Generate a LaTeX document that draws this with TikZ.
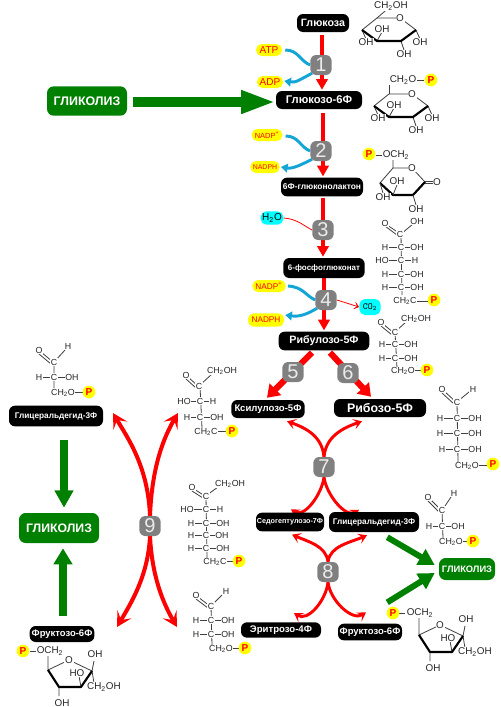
\documentclass[tikz,border=0pt]{standalone}
\usepackage{fontspec}
\setmainfont{Liberation Sans}
\usetikzlibrary{arrows.meta,calc,backgrounds}
\newcommand{\fsz}[1]{\fontsize{#1}{#1}\selectfont}
\newcommand{\two}{\textsubscript{2}}
\definecolor{gr}{HTML}{008000}
\definecolor{blu}{HTML}{12A5D6}
\definecolor{gry}{HTML}{808080}
\definecolor{cy}{HTML}{00FFFF}
\definecolor{yl}{HTML}{FFFF00}
\tikzset{
 blk/.style={fill=black,text=white,rounded corners=4.5pt,inner sep=0pt,font=\bfseries\fsz{#1}},
 blk/.default=7.2,
 glyc/.style={fill=gr,text=white,rounded corners=5pt,inner sep=0pt,font=\bfseries\fsz{#1}},
 num/.style={fill=gry,text=white!92!black,rounded corners=4.5pt,minimum width=16pt,minimum height=15pt,inner sep=0pt,font=\fsz{15}},
 yel/.style={fill=yl,text=red,rounded corners=4.2pt,inner sep=0pt,minimum height=9pt,font=\fsz{#1}},
 yel/.default=7.5,
 cya/.style={fill=cy,text=black,rounded corners=4.2pt,inner sep=0pt,minimum height=10pt,font=\fsz{7.5}},
 redup/.style={red,line width=2.7pt,-{Triangle[length=8pt,width=8.5pt]}},
 redfat/.style={red,line width=4.6pt,-{Triangle[length=9pt,width=12pt]}},
 redcurve/.style={red,line width=2.2pt,-{Stealth[length=6.5pt,width=8pt,inset=3pt]}},
 redbig/.style={red,line width=3pt,-{Stealth[length=11pt,width=12pt,inset=5pt]}},
 blue arc/.style={blu,line width=2.2pt},
 bluearr/.style={blu,line width=2.2pt,-{Triangle[length=5pt,width=6.5pt]}},
 thinred/.style={red,line width=.6pt},
 chem/.style={fill=white,inner sep=.4pt,text=black!85,font=\fsz{6.6}},
 ring/.style={text=black!85,inner sep=.5pt,fill=white,font=\fsz{7.4}},
 bond/.style={black!75,line width=.6pt},
 bbond/.style={black,line width=1.6pt},
 pc/.style={circle,fill=yl,text=red,inner sep=0pt,minimum size=9.5pt,font=\bfseries\fsz{7.5}},
}
% Fischer row: xL xC xR y textL textR
\newcommand{\frow}[6]{\draw[bond] (#1,#4)--(#3,#4);\node[chem] at (#1,#4){#5};\node[chem] at (#2,#4){C};\node[chem] at (#3,#4){#6};}
\newcommand{\psign}[2]{\node[pc] at (#1,#2){P};}
% ring: origin at C5
\newcommand{\pyrring}[2]{\begin{scope}[shift={(#1,#2)}]
 \draw[bond] (-15,12)--(0,0)--(23,0)--(39,12);
 \draw[bond] (-15,12)--(-11,21) (39,12)--(43,21) (24,23)--(27,32) (0,23)--(5,14);
 \draw[bbond,line join=round] (-15,12)--(0,23)--(24,23)--(39,12);
 \node[ring] at (23,0){O};
 \node[ring] at (5,11){OH};
 \node[ring] at (-11,24){OH};
 \node[ring] at (43,24){OH};
 \node[ring] at (27,36){OH};
\end{scope}}
% furanose: origin at left ring carbon
\newcommand{\furring}[2]{\begin{scope}[shift={(#1,#2)}]
 \draw[bond] (0,-19)--(0,0)--(21,-10)--(44,1);
 \draw[bond] (44,1)--(46,-9) (44,1)--(46,13) (11,17)--(11,26);
 \draw[bond] (33,17)--(31,6);
 \draw[bbond,line join=round] (0,0)--(11,17)--(33,17)--(44,1);
 \node[ring] at (21,-10){O};
 \node[ring] at (47,-16){OH};
 \node[ring] at (29,3){HO};
 \node[ring] at (56,17){CH\two OH};
 \node[ring] at (14,33){OH};
\end{scope}}
\begin{document}
\begin{tikzpicture}[x=.75pt,y=-.75pt]
\useasboundingbox (0,0) rectangle (500,707);
% ---- metabolites
\node[blk=8,minimum width=39pt,minimum height=13.5pt] (glc) at (323,23){Глюкоза};
\node[blk=8.4,minimum width=64.5pt,minimum height=13.5pt] (g6p) at (319,100){Глюкозо-6Ф};
\node[blk=6.3,minimum width=61.5pt,minimum height=14pt] (lac) at (322,187){6Ф-глюконолактон};
\node[blk=6,minimum width=61pt,minimum height=15pt] (pg) at (324,268){6-фосфоглюконат};
\node[blk=8,minimum width=68pt,minimum height=14pt] (rul) at (324,341){Рибулозо-5Ф};
\node[blk,minimum width=55pt,minimum height=13.5pt] (xyl) at (268,409){Ксилулозо-5Ф};
\node[blk=9.3,minimum width=69pt,minimum height=13.5pt] (rib) at (380,408){Рибозо-5Ф};
\node[blk=5.4,minimum width=51pt,minimum height=14pt] (sed) at (290,522){Седогептулозо-7Ф};
\node[blk=6.2,minimum width=67.5pt,minimum height=15pt] (gapr) at (374,522){Глицеральдегид-3Ф};
\node[blk=7.2,minimum width=60pt,minimum height=11.5pt] (ery) at (281,630){Эритрозо-4Ф};
\node[blk=7.1,minimum width=48pt,minimum height=12.5pt] (frr) at (370,632){Фруктозо-6Ф};
\node[blk=6.2,minimum width=70.5pt,minimum height=15.5pt] (gapl) at (56,416){Глицеральдегид-3Ф};
\node[blk=7.1,minimum width=48.5pt,minimum height=12pt] (frl) at (62,634){Фруктозо-6Ф};
% ---- glycolysis
\node[glyc=9.3,minimum width=60pt,minimum height=22pt] (g1) at (87,101){ГЛИКОЛИЗ};
\node[glyc=9.2,minimum width=60pt,minimum height=22.5pt] (g2) at (59,528){ГЛИКОЛИЗ};
\node[glyc=7,minimum width=42pt,minimum height=16.5pt] (g3) at (467,569){ГЛИКОЛИЗ};
% ---- step numbers
\node[num] (n1) at (321,65){1};
\node[num] (n2) at (321,151){2};
\node[num] (n3) at (323,230){3};
\node[num] (n4) at (326,300){4};
\node[num] (n5) at (293,372){5};
\node[num] (n6) at (348,373){6};
\node[num] (n7) at (324,467){7};
\node[num] (n8) at (328,572){8};
\node[num] (n9) at (150,526){9};
% ---- cofactors
\node[yel,minimum width=19.5pt] (atp) at (269,50){ATP};
\node[yel,minimum width=19.5pt] (adp) at (270,82){ADP};
\node[yel=5.6,minimum width=23pt] (nadp1) at (267,135){NADP\textsuperscript{+}};
\node[yel=5.2,minimum width=22pt] (nadph1) at (265,167){NADPH};
\node[cya,minimum width=17pt] (h2o) at (272,218){H\two O};
\node[yel=6.2,minimum width=25pt] (nadp2) at (269,286){NADP\textsuperscript{+}};
\node[yel=6.2,minimum width=27pt,minimum height=10pt] (nadph2) at (266,320){NADPH};
\node[cya,minimum width=16pt,minimum height=12pt,font=\ttfamily\fsz{7}] (co2) at (370,307){CO\two};
\begin{pgfonlayer}{background}
\fill[white] (0,0) rectangle (500,707);
% ---- main pathway
\draw[redup] ($(glc.south)+(-1,3)$) -- ($(g6p.north)+(3,-1)$);
\draw[redup] ($(g6p.south)+(4,4)$) -- ($(lac.north)+(1,-1)$);
\draw[redup] ($(lac.south)+(1,1)$) -- ($(pg.north)+(-1,-1)$);
\draw[redup] (pg.south) -- ($(rul.north)+(0,-1)$);
\draw[redfat] ($(rul.south)+(-12,2)$) -- ($(xyl.north)+(-1,-2)$);
\draw[redfat] ($(rul.south)+(6,2)$) -- ($(rib.north)+(-9,-2)$);
% ---- cofactor arcs
\draw[blue arc] ($(atp.east)+(3,0)$) .. controls +(13,0) and +(-10,-4) .. (n1.west);
\draw[bluearr] ($(n1.south west)+(2,-2)$) .. controls +(-10,5) and +(12,2) .. ($(adp.east)+(1,-1)$);
\draw[blue arc] ($(nadp1.east)+(3,1)$) .. controls +(13,0) and +(-10,-4) .. (n2.west);
\draw[bluearr] ($(n2.south west)+(2,-2)$) .. controls +(-10,5) and +(12,2) .. ($(nadph1.east)+(1,0)$);
\draw[thinred] (h2o.east) .. controls +(14,1) and +(-8,-4) .. (n3.west);
\draw[blue arc] ($(nadp2.east)+(2,0)$) .. controls +(15,1) and +(-10,-5) .. (n4.west);
\draw[bluearr] ($(n4.south west)+(2,-2)$) .. controls +(-10,6) and +(14,2) .. ($(nadph2.east)+(1,-5)$);
\draw[thinred,-{Stealth[length=5pt,width=8pt,inset=3.5pt]}] (n4.east) -- (co2.west);
% ---- step 7, 8
\draw[redcurve] (n7.north) .. controls +(-2,-20) and +(20,7) .. ($(xyl.south)+(19,3)$);
\draw[redcurve] (n7.north) .. controls +(2,-20) and +(-20,7) .. ($(rib.south)+(-18,4)$);
\draw[redcurve] (n7.south) .. controls +(-2,16) and +(14,9) .. ($(sed.north)+(1,-3)$);
\draw[redcurve] (n7.south) .. controls +(2,16) and +(-14,9) .. ($(gapr.north)+(-15,-2)$);
\draw[redcurve] (n8.north) .. controls +(-2,-16) and +(16,7) .. ($(sed.south)+(2,3)$);
\draw[redcurve] (n8.north) .. controls +(2,-16) and +(-16,7) .. ($(gapr.south)+(-7,3)$);
\draw[redcurve] (n8.south) .. controls +(-2,18) and +(14,9) .. ($(ery.north)+(13,-9)$);
\draw[redcurve] (n8.south) .. controls +(2,18) and +(-14,9) .. ($(frr.north)+(-4,-11)$);
% ---- step 9
\coordinate (e9a) at (113,413); \coordinate (e9b) at (178,413);
\coordinate (e9c) at (117,627); \coordinate (e9d) at (177,627);
\draw[redbig] (n9.north) .. controls +(-2,-50) and +(14,24) .. (e9a);
\draw[redbig] (n9.north) .. controls +(2,-50) and +(-14,24) .. (e9b);
\draw[redbig] (n9.south) .. controls +(-2,40) and +(14,-24) .. (e9c);
\draw[redbig] (n9.south) .. controls +(2,40) and +(-14,-24) .. (e9d);
% ---- green arrows
\draw[gr,line width=7pt,-{Triangle[length=26pt,width=16pt]}] ($(g1.east)+(6,1)$) -- ($(g6p.west)+(0,2)$);
\draw[gr,line width=5.6pt,-{Triangle[length=13pt,width=13.5pt]}] ($(gapl.south)+(8,13)$) -- ($(g2.north)+(5,-5)$);
\draw[gr,line width=5.6pt,-{Triangle[length=12pt,width=13.5pt]}] ($(frl.north)+(1,-10)$) -- ($(g2.south)+(4,5)$);
\draw[gr,line width=4.5pt,-{Triangle[length=12pt,width=13pt]}] ($(gapr.south east)+(-32,5)$) -- ($(g3.west)+(-4,-4)$);
\draw[gr,line width=4.5pt,-{Triangle[length=12pt,width=13pt]}] ($(frr.north east)+(-15,-21)$) -- ($(g3.west)+(-4,4)$);
\end{pgfonlayer}
% ---- glucose
\draw[bond] (391,6)--(377,18);
\node[ring] at (391,6){CH\two OH};
\pyrring{377}{18}
% ---- G6P
\draw[bond] (389,80)--(389,94) (407,80)--(424,80);
\pyrring{389}{94}
\node[ring] at (403,80){CH\two O};
\psign{431}{80}
% ---- lactone
\draw[bond] (393,156)--(393,168)--(412,168)--(425,182);
\draw[bond] (393,168)--(380,183);
\draw[bond] (376,155)--(385,155);
\draw[bbond,line join=round] (380,183)--(393,195)--(413,195)--(425,182);
\draw[bond] (425,181)--(433,181) (425,183)--(433,183);
\draw[bond] (380,183)--(383,193) (413,195)--(416,205) (393,195)--(397,185);
\psign{369}{154}
\node[ring] at (396,155){OCH\two};
\node[ring] at (412,168){O};
\node[ring] at (397,181){OH};
\node[ring] at (383,197){OH};
\node[ring] at (416,209){OH};
\node[ring] at (437,182){O};
% ---- 6-phosphogluconate
\draw[bond] (387,225)--(399,233) (385,226)--(397,235) (401,234)--(413,224) (401,234)--(402,295);
\frow{385}{401}{417}{247}{H}{OH}
\frow{382}{401}{415}{260}{HO}{H}
\frow{385}{401}{417}{274}{H}{OH}
\frow{385}{401}{417}{287}{H}{OH}
\node[chem] at (385,223){O};\node[chem] at (400,234){C};\node[chem] at (417,221){OH};
\draw[bond] (412,301)--(428,301);
\node[chem] at (405,301){CH\two C};
\psign{434}{300}
% ---- ribulose
\draw[bond] (383,324)--(394,333) (381,326)--(392,335) (396,331)--(406,322) (395,332)--(397,368);
\frow{382}{395}{411}{344}{H}{OH}
\frow{382}{395}{411}{358}{H}{OH}
\node[chem] at (381,322){O};\node[chem] at (395,332){C};\node[chem] at (416,319){CH\two OH};
\draw[bond] (412,370)--(422,370);
\node[chem] at (403,371){CH\two O};
\psign{427}{370}
% ---- xylulose
\draw[bond] (188,377)--(198,386) (186,379)--(196,388) (200,385)--(212,374) (200,386)--(202,428);
\frow{184}{200}{213}{401}{HO}{H}
\frow{187}{200}{217}{417}{H}{OH}
\node[chem] at (186,375){O};\node[chem] at (199,386){C};\node[chem] at (222,371){CH\two OH};
\draw[bond] (211,431)--(227,431);
\node[chem] at (206,432){CH\two C};
\psign{232}{431}
% ---- glyceraldehyde left
\draw[bond] (41,352)--(53,362) (39,354)--(51,364) (55,361)--(65,350) (54,362)--(54,388);
\frow{39}{54}{72}{377}{H}{OH}
\node[chem] at (39,350){O};\node[chem] at (54,362){C};\node[chem] at (68,346){H};
\draw[bond] (66,392)--(84,392);
\node[chem] at (63,393){CH\two O};
\psign{89}{392}
% ---- ribose
\draw[bond] (444,391)--(456,402) (442,393)--(454,404) (458,401)--(469,392) (457,402)--(458,462);
\frow{440}{457}{475}{418}{H}{OH}
\frow{440}{457}{475}{433}{H}{OH}
\frow{442}{457}{475}{449}{H}{OH}
\node[chem] at (442,389){O};\node[chem] at (457,402){C};\node[chem] at (473,389){H};
\draw[bond] (475,465)--(488,465);
\node[chem] at (467,466){CH\two O};
\psign{493}{464}
% ---- glyceraldehyde right
\draw[bond] (430,499)--(441,510) (428,501)--(439,512) (443,509)--(451,497) (442,510)--(443,538);
\frow{429}{442}{458}{526}{H}{OH}
\node[chem] at (428,497){O};\node[chem] at (442,510){C};\node[chem] at (454,493){H};
\draw[bond] (458,541)--(468,541);
\node[chem] at (451,542){CH\two O};
\psign{473}{541}
% ---- sedoheptulose
\draw[bond] (194,489)--(205,496) (192,491)--(203,498) (207,495)--(218,487) (206,496)--(207,558);
\frow{187}{206}{220}{509}{HO}{H}
\frow{191}{206}{223}{523}{H}{OH}
\frow{191}{206}{222}{535}{H}{OH}
\frow{191}{206}{223}{548}{H}{OH}
\node[chem] at (192,487){O};\node[chem] at (206,496){C};\node[chem] at (230,484){CH\two OH};
\draw[bond] (225,561)--(234,561);
\node[chem] at (215,562){CH\two C};
\psign{239}{561}
% ---- erythrose
\draw[bond] (198,597)--(210,606) (196,599)--(208,608) (212,605)--(222,595) (211,606)--(212,645);
\frow{196}{211}{228}{620}{H}{OH}
\frow{196}{211}{228}{634}{H}{OH}
\node[chem] at (196,595){O};\node[chem] at (211,606){C};\node[chem] at (226,591){H};
\draw[bond] (231,648)--(240,648);
\node[chem] at (221,649){CH\two O};
\psign{245}{648}
% ---- fructose left
\furring{48}{670}
\draw[bond] (30,651)--(36,651);
\node[ring] at (50,651){OCH\two};
\psign{23}{651}
% ---- fructose right
\furring{419}{635}
\draw[bond] (399,613)--(405,613);
\node[ring] at (420,613){OCH\two};
\psign{393}{613}
\end{tikzpicture}
\end{document}
